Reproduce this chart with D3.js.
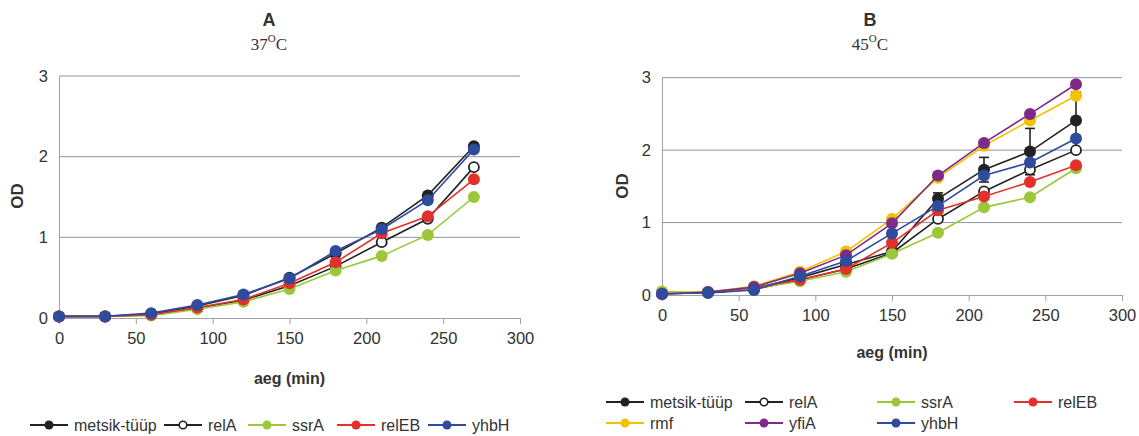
<!DOCTYPE html>
<html>
<head>
<meta charset="utf-8">
<script src="https://cdn.jsdelivr.net/npm/d3@7"></script>
<style>
  html, body { margin: 0; padding: 0; background: #fff; }
  svg { display: block; }
  text { font-family: "Liberation Sans", Arial, sans-serif; fill: #333; }
</style>
</head>
<body>
<svg id="chart" width="1139" height="436"></svg>
<script>
// Sampling times (min) and axis ticks
const times = [0, 30, 60, 90, 120, 150, 180, 210, 240, 270];
const xTicks = [0, 50, 100, 150, 200, 250, 300];
const yTicks = [0, 1, 2, 3];

// Strain names and colours
const strainNames = ["metsik-tüüp", "relA", "ssrA", "relEB", "rmf", "yfiA", "yhbH"];
const strainColors = ["#222222", "#222222", "#9bc83a", "#e2312d", "#f2c200", "#7d2a88", "#2f4b9d"];
const openMarker = ["relA"];

// Panel A: 37 °C growth (OD)
const a_metsik = [0.02, 0.02, 0.05, 0.15, 0.28, 0.50, 0.80, 1.12, 1.52, 2.13];
const a_relA   = [0.02, 0.02, 0.04, 0.12, 0.22, 0.40, 0.64, 0.94, 1.23, 1.87];
const a_ssrA   = [0.02, 0.02, 0.03, 0.11, 0.20, 0.36, 0.59, 0.77, 1.03, 1.50];
const a_relEB  = [0.02, 0.02, 0.04, 0.13, 0.23, 0.43, 0.69, 1.05, 1.26, 1.72];
const a_yhbH   = [0.02, 0.02, 0.06, 0.16, 0.29, 0.49, 0.83, 1.10, 1.46, 2.09];

// Panel B: 45 °C growth (OD)
const b_metsik = [0.02, 0.03, 0.09, 0.24, 0.42, 0.60, 1.33, 1.73, 1.98, 2.41];
const b_metsikErr = [0, 0, 0, 0, 0, 0, 0.08, 0.17, 0.32, 0.39];
const b_relA   = [0.02, 0.03, 0.08, 0.21, 0.36, 0.58, 1.05, 1.43, 1.73, 2.00];
const b_ssrA   = [0.05, 0.03, 0.09, 0.19, 0.32, 0.57, 0.86, 1.21, 1.35, 1.75];
const b_relEB  = [0.02, 0.04, 0.10, 0.21, 0.36, 0.72, 1.17, 1.36, 1.56, 1.79];
const b_rmf    = [0.03, 0.04, 0.12, 0.32, 0.60, 1.05, 1.62, 2.06, 2.41, 2.75];
const b_yfiA   = [0.01, 0.04, 0.11, 0.30, 0.55, 0.99, 1.65, 2.10, 2.50, 2.91];
const b_yhbH   = [0.02, 0.03, 0.07, 0.26, 0.47, 0.85, 1.23, 1.65, 1.83, 2.16];

const colorOf = name => strainColors[strainNames.indexOf(name)];

const svg = d3.select("#chart");

function drawPanel(cfg) {
  const g = svg.append("g");
  const x = d3.scaleLinear().domain([0, 300]).range([cfg.left, cfg.right]);
  const y = d3.scaleLinear().domain([0, 3]).range([cfg.bottom, cfg.top]);

  // horizontal gridlines
  g.selectAll("line.grid").data(yTicks.filter(v => v > 0)).enter()
    .append("line")
    .attr("x1", x(0)).attr("x2", x(300))
    .attr("y1", d => y(d)).attr("y2", d => y(d))
    .attr("stroke", "#8e94a6").attr("stroke-width", 1);

  // x axis
  const xAxis = d3.axisBottom(x).tickValues(xTicks).tickFormat(d3.format("d"))
    .tickSize(6).tickPadding(8).tickSizeOuter(0);
  const gx = g.append("g").attr("transform", `translate(0,${y(0)})`).call(xAxis);
  gx.select(".domain").attr("stroke", "#a0a0a8");
  gx.selectAll(".tick line").attr("stroke", "#a0a0a8");
  gx.selectAll(".tick text").attr("font-size", 16.5).attr("fill", "#333")
    .attr("font-family", '"Liberation Sans", Arial, sans-serif');

  // y axis
  const yAxis = d3.axisLeft(y).tickValues(yTicks).tickFormat(d3.format("d"))
    .tickSize(0).tickPadding(11);
  const gy = g.append("g").attr("transform", `translate(${x(0)},0)`).call(yAxis);
  gy.select(".domain").attr("stroke", "#a0a0a8");
  gy.selectAll(".tick text").attr("font-size", 16.5).attr("fill", "#333")
    .attr("font-family", '"Liberation Sans", Arial, sans-serif');

  // axis titles
  g.append("text").attr("x", (cfg.left + cfg.right) / 2).attr("y", cfg.xTitleY)
    .attr("text-anchor", "middle").attr("font-weight", "bold").attr("font-size", 16)
    .attr("fill", "#222").text("aeg (min)");
  g.append("text")
    .attr("transform", `translate(${cfg.yTitleX},${cfg.yTitleY}) rotate(-90)`)
    .attr("text-anchor", "middle").attr("dominant-baseline", "central")
    .attr("font-weight", "bold").attr("font-size", 17).attr("fill", "#222").text("OD");

  // panel title
  g.append("text").attr("x", cfg.titleX).attr("y", 26)
    .attr("text-anchor", "middle").attr("font-weight", "bold").attr("font-size", 18)
    .attr("fill", "#222").text(cfg.letter);
  const t = g.append("text").attr("x", cfg.titleX).attr("y", 50)
    .attr("text-anchor", "middle").attr("font-size", 17).attr("fill", "#222")
    .style("font-family", '"Liberation Serif", "Times New Roman", serif');
  t.append("tspan").text(cfg.temp);
  t.append("tspan").attr("font-size", 11).attr("dy", -8).text("O");
  t.append("tspan").attr("dy", 8).text("C");

  const line = d3.line().x((d, i) => x(times[i])).y(d => y(d));

  cfg.series.forEach(s => {
    const col = colorOf(s.name);
    const sg = g.append("g");
    sg.append("path").datum(s.values).attr("d", line)
      .attr("fill", "none").attr("stroke", col).attr("stroke-width", 1.6);
    if (s.err) {
      s.values.forEach((v, i) => {
        const e = s.err[i];
        if (!e) return;
        const cx = x(times[i]);
        sg.append("line").attr("x1", cx).attr("x2", cx)
          .attr("y1", y(v - e)).attr("y2", y(v + e)).attr("stroke", col).attr("stroke-width", 1.6);
        [v - e, v + e].forEach(w => {
          sg.append("line").attr("x1", cx - 5).attr("x2", cx + 5)
            .attr("y1", y(w)).attr("y2", y(w)).attr("stroke", col).attr("stroke-width", 1.6);
        });
      });
    }
    const open = openMarker.includes(s.name);
    sg.selectAll("circle").data(s.values).enter().append("circle")
      .attr("cx", (d, i) => x(times[i])).attr("cy", d => y(d))
      .attr("r", open ? 5 : 6)
      .attr("fill", open ? "#fff" : col)
      .attr("stroke", col).attr("stroke-width", open ? 1.8 : 0);
  });
}

drawPanel({
  letter: "A", temp: "37", titleX: 269,
  left: 59, right: 520, top: 76, bottom: 318,
  xTitleY: 384, yTitleX: 17, yTitleY: 196,
  series: [
    { name: "metsik-tüüp", values: a_metsik },
    { name: "relA", values: a_relA },
    { name: "ssrA", values: a_ssrA },
    { name: "relEB", values: a_relEB },
    { name: "yhbH", values: a_yhbH }
  ]
});

drawPanel({
  letter: "B", temp: "45", titleX: 870,
  left: 662, right: 1122, top: 77.7, bottom: 295,
  xTitleY: 358, yTitleX: 622, yTitleY: 186,
  series: [
    { name: "metsik-tüüp", values: b_metsik, err: b_metsikErr },
    { name: "relA", values: b_relA },
    { name: "ssrA", values: b_ssrA },
    { name: "relEB", values: b_relEB },
    { name: "rmf", values: b_rmf },
    { name: "yfiA", values: b_yfiA },
    { name: "yhbH", values: b_yhbH }
  ]
});

// Legends
function legendItem(name, lx, ly) {
  const col = colorOf(name);
  const open = openMarker.includes(name);
  const g = svg.append("g");
  g.append("line").attr("x1", lx).attr("x2", lx + 38).attr("y1", ly).attr("y2", ly)
    .attr("stroke", col).attr("stroke-width", 1.8);
  g.append("circle").attr("cx", lx + 19).attr("cy", ly).attr("r", open ? 3.8 : 4.5)
    .attr("fill", open ? "#fff" : col).attr("stroke", col).attr("stroke-width", open ? 1.6 : 0);
  g.append("text").attr("x", lx + 44).attr("y", ly).attr("dominant-baseline", "central")
    .attr("font-size", 16).attr("fill", "#333").text(name);
}

const legendA = [["metsik-tüüp", 30], ["relA", 164], ["ssrA", 248], ["relEB", 337], ["yhbH", 428]];
legendA.forEach(([n, lx]) => legendItem(n, lx, 425));

const legendB = [
  ["metsik-tüüp", 606, 402], ["relA", 745, 402], ["ssrA", 877, 402], ["relEB", 1014, 402],
  ["rmf", 606, 423], ["yfiA", 745, 423], ["yhbH", 877, 423]
];
legendB.forEach(([n, lx, ly]) => legendItem(n, lx, ly));
</script>
</body>
</html>
